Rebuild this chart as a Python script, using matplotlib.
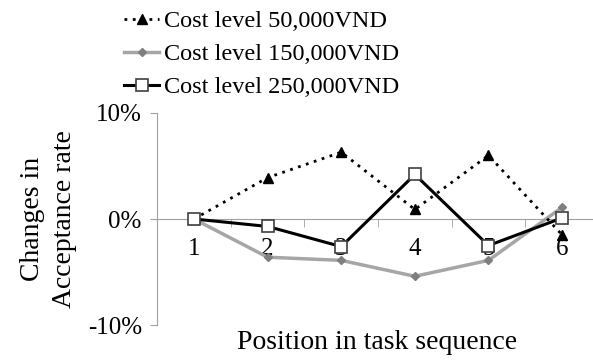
import numpy as np
import matplotlib
matplotlib.use("Agg")
import matplotlib.pyplot as plt
from matplotlib.ticker import FixedLocator

plt.rcParams["font.family"] = "Liberation Serif"

positions = [1, 2, 3, 4, 5, 6]
cost_50k = [0.0, 3.9, 6.3, 0.9, 6.0, -1.5]
cost_150k = [0.0, -3.6, -3.9, -5.4, -3.9, 1.1]
cost_250k = [0.0, -0.7, -2.6, 4.2, -2.5, 0.1]
yticks = [-10, 0, 10]
ytick_labels = ["-10%", "0%", "10%"]

fig = plt.figure(figsize=(5.93, 3.62), dpi=100)
ax = fig.add_axes([0.265, 0.102, 0.745, 0.586])

ax.plot(positions, cost_50k, color="black", ls=(0, (1, 2)), lw=2,
        marker="^", ms=7, mfc="black", mec="black",
        label="Cost level 50,000VND", zorder=3)
ax.plot(positions, cost_150k, color="#a6a6a6", lw=2.5,
        marker="D", ms=4.5, mfc="#7f7f7f", mec="#7f7f7f",
        label="Cost level 150,000VND", zorder=2)
ax.plot(positions, cost_250k, color="black", lw=2.2,
        marker="s", ms=8, mfc="white", mec="#404040", mew=1.2,
        label="Cost level 250,000VND", zorder=4)

ax.set_xlim(0.5, 6.5)
ax.set_ylim(-10, 10)

# Excel-like axes
for s in ["top", "right"]:
    ax.spines[s].set_visible(False)
ax.spines["left"].set_color("#a0a0a0")
ax.spines["bottom"].set_color("#a0a0a0")
ax.spines["bottom"].set_position(("data", 0))

ax.set_yticks(yticks)
ax.set_yticklabels(ytick_labels, fontsize=18)
ax.tick_params(axis="y", length=5, color="#a0a0a0", pad=6)

ax.set_xticks(positions)
ax.set_xticklabels([str(p) for p in positions], fontsize=18)
ax.tick_params(axis="x", which="major", length=0, pad=14)
ax.xaxis.set_minor_locator(FixedLocator(np.arange(1.5, 6.5, 1.0)))
ax.tick_params(axis="x", which="minor", length=6, color="#a0a0a0", direction="out")

ax.set_ylabel("Changes in\nAcceptance rate", fontsize=20, labelpad=8,
              linespacing=1.35)
fig.text(0.636, 0.055, "Position in task sequence", fontsize=20,
         ha="center", va="center")

fig.legend(loc="upper left", bbox_to_anchor=(0.209, 0.972), frameon=False,
           fontsize=17.5, handlelength=1.45, handletextpad=0.2,
           labelspacing=0.45, borderaxespad=0, borderpad=0)

fig.savefig("out.png", dpi=100)
